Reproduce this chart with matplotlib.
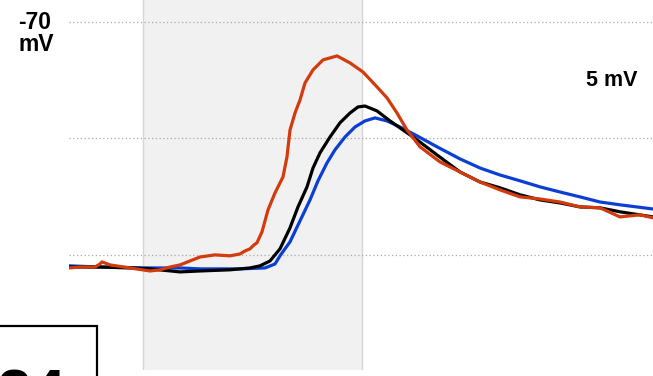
import matplotlib
matplotlib.use("Agg")
import matplotlib.pyplot as plt
from matplotlib.patches import Rectangle
from matplotlib import font_manager as fm

# Membrane potential traces (time in ms, potential in mV)
t_red = [0, 1.1, 2.6, 3.1, 3.3, 4.1, 6.1, 8.1, 9.1, 10.1, 11.1, 12.1, 13.1, 14.6, 16.1,
         17.1, 17.6, 18.1, 18.5, 18.8, 19.3, 19.9, 20.6, 21.4, 21.8, 22.1, 22.6, 23.1,
         23.6, 24.4, 25.4, 26.8, 28.1, 29.4, 30.8, 31.8, 32.8, 33.8, 35.1, 37.1, 39.1,
         41.1, 43.1, 45.1, 47.1, 49.1, 51.1, 53.1, 55.1, 57.1, 58.4]
v_red = [-80.56, -80.52, -80.52, -80.39, -80.30, -80.43, -80.56, -80.69, -80.64, -80.52,
         -80.43, -80.26, -80.09, -80.00, -80.04, -79.96, -79.83, -79.74, -79.57, -79.48,
         -79.01, -78.07, -77.34, -76.65, -75.79, -74.64, -73.91, -73.35, -72.62, -72.06,
         -71.63, -71.46, -71.76, -72.15, -72.79, -73.26, -73.91, -74.64, -75.36, -76.01,
         -76.44, -76.87, -77.21, -77.51, -77.60, -77.73, -77.94, -77.98, -78.37, -78.28,
         -78.41]

t_black = [0, 3.1, 6.1, 8.1, 11.1, 13.1, 16.1, 18.1, 19.1, 20.1, 21.1, 22.1, 22.9, 23.8,
           24.4, 25.1, 26.1, 27.1, 28.1, 28.9, 29.6, 30.8, 32.1, 33.4, 34.8, 36.8, 39.1,
           41.1, 43.1, 45.1, 47.1, 49.1, 51.1, 53.1, 55.1, 58.4]
v_black = [-80.52, -80.52, -80.56, -80.60, -80.73, -80.69, -80.64, -80.56, -80.47, -80.26,
           -79.74, -78.84, -77.94, -77.08, -76.27, -75.62, -74.94, -74.33, -73.91, -73.65,
           -73.61, -73.82, -74.25, -74.64, -75.06, -75.71, -76.44, -76.87, -77.12, -77.42,
           -77.64, -77.77, -77.94, -77.98, -78.15, -78.37]

t_blue = [0, 3.1, 8.1, 11.1, 13.1, 17.1, 19.6, 20.6, 21.1, 22.1, 23.1, 24.1, 24.9, 25.8,
          26.6, 27.6, 28.6, 29.6, 30.6, 31.8, 33.1, 34.8, 36.8, 39.1, 41.1, 43.1, 45.1,
          47.1, 49.1, 51.1, 53.1, 55.1, 58.4]
v_blue = [-80.47, -80.52, -80.56, -80.56, -80.60, -80.60, -80.56, -80.39, -80.04, -79.44,
          -78.54, -77.64, -76.82, -76.05, -75.49, -74.94, -74.51, -74.25, -74.12, -74.25,
          -74.51, -74.89, -75.36, -75.88, -76.27, -76.57, -76.82, -77.08, -77.30, -77.51,
          -77.73, -77.85, -78.03]

stim_window = (7.4, 29.3)       # shaded stimulus period, ms
grid_levels = [-70, -75, -80]   # mV
t_range = (0, 58.4)
v_range = (-84.94, -69.06)


def bold_sans():
    """Regular-width Liberation Sans Bold (not the Narrow variant)."""
    for f in fm.fontManager.ttflist:
        path = f.fname.replace("\\", "/").split("/")[-1]
        if path == "LiberationSans-Bold.ttf":
            return fm.FontProperties(fname=f.fname)
    return fm.FontProperties(family="DejaVu Sans", weight="bold")


W, H = 653, 376
fig = plt.figure(figsize=(W / 100, H / 100), dpi=100)
fig.patch.set_facecolor("white")
ax = fig.add_axes([69 / W, 6 / H, 584 / W, 370 / H])
ax.set_xlim(*t_range)
ax.set_ylim(*v_range)
ax.axis("off")

# stimulus window
ax.axvspan(*stim_window, color="#f1f1f1", lw=0, zorder=0)
for x in stim_window:
    ax.axvline(x, color="#d6d6d6", lw=1.0, zorder=0.5)

# dotted reference levels
for lv in grid_levels:
    ax.axhline(lv, color="#a8a8a8", lw=0.9, ls=(0, (1, 2)), zorder=1)

lw = 2.3
ax.plot(t_blue, v_blue, color="#0b3fd4", lw=lw, solid_capstyle="round", zorder=2)
ax.plot(t_black, v_black, color="#000000", lw=lw, solid_capstyle="round", zorder=3)
ax.plot(t_red, v_red, color="#d33a0c", lw=lw, solid_capstyle="round", zorder=4)

fp = bold_sans()
fig.text(18 / W, 1 - 11 / H, "-70\nmV", ha="left", va="top", fontproperties=fp,
         fontsize=16.5, linespacing=0.95)
fig.text(586 / W, 1 - 70 / H, "5 mV", ha="left", va="top", fontproperties=fp,
         fontsize=15.5)

# panel label box at the lower left
fig.patches.append(Rectangle((-10 / W, -40 / H), 107 / W, (376 - 326 + 40) / H,
                             transform=fig.transFigure, facecolor="white",
                             edgecolor="black", lw=1.6, zorder=5))
fig.text(-3 / W, 1 - 367 / H, "24", ha="left", va="top", fontproperties=fp,
         fontsize=45, zorder=6)

fig.savefig("out.png", dpi=100)
